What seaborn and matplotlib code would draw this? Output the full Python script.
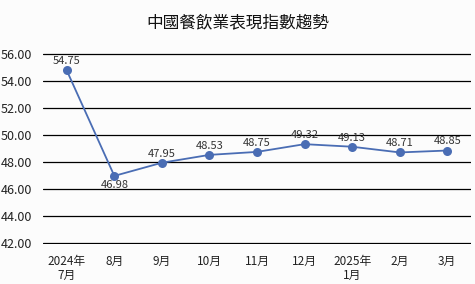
import matplotlib
matplotlib.use("Agg")
import matplotlib.pyplot as plt
import seaborn as sns
import pandas as pd

months = ["2024年\n7月", "8月", "9月", "10月", "11月", "12月", "2025年\n1月", "2月", "3月"]
values = [54.75, 46.98, 47.95, 48.53, 48.75, 49.32, 49.13, 48.71, 48.85]
yticks = [42, 44, 46, 48, 50, 52, 54, 56]
title = "中國餐飲業表現指數趨勢"

sns.set_theme(style="white")
plt.rcParams['font.family'] = ['Noto Sans CJK TC', 'DejaVu Sans']

df = pd.DataFrame({"month": months, "value": values, "idx": range(len(months))})

fig = plt.figure(figsize=(4.75, 2.84), dpi=100, facecolor="#fcfcfc")
ax = fig.add_axes([43/475, 1-244/284, (471-43)/475, (244-53)/284])
ax.set_facecolor("#fcfcfc")

sns.lineplot(data=df, x="idx", y="value", ax=ax, color="#4a6db4", linewidth=1.3,
             marker="o", markersize=6.5, markeredgewidth=0, zorder=3)

for i, v in enumerate(values):
    if i == 1:
        ax.annotate(f"{v:.2f}", (i, v), xytext=(0, -3), textcoords="offset points",
                    ha="center", va="top", fontsize=8, color="#333333")
    else:
        ax.annotate(f"{v:.2f}", (i, v), xytext=(0, 3), textcoords="offset points",
                    ha="center", va="bottom", fontsize=8, color="#333333")

ax.set_ylim(41.96, 56.04)
ax.set_yticks(yticks)
ax.set_yticklabels([f"{t:.2f}" for t in yticks], fontsize=9, color="#222222")
ax.set_xlim(-0.5, len(months) - 0.5)
ax.set_xticks(range(len(months)))
ax.set_xticklabels(months, fontsize=8.5, color="#222222", linespacing=1.05)
ax.tick_params(axis="y", length=0, pad=8)
ax.tick_params(axis="x", length=0, pad=8)
ax.grid(axis="y", color="black", linewidth=0.9)
ax.set_axisbelow(True)
for s in ax.spines.values():
    s.set_visible(False)
ax.set_xlabel("")
ax.set_ylabel("")

fig.text(0.5, 1-23/284, title, ha="center", va="center", fontsize=12, color="#111111")

fig.savefig("out.png", dpi=100, facecolor=fig.get_facecolor())
